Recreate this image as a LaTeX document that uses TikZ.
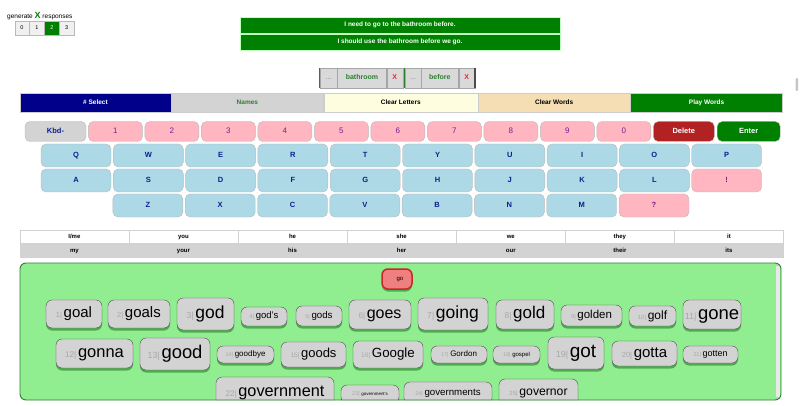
\documentclass[tikz,border=0pt]{standalone}
\usepackage{fontspec}
\setmainfont{Liberation Sans}
\usetikzlibrary{positioning,shadows}

\definecolor{pagegreen}{HTML}{008000}
\definecolor{namegreen}{HTML}{2E7D32}
\definecolor{keyblue}{HTML}{ADD8E6}
\definecolor{keypink}{HTML}{FFB6C1}
\definecolor{keytext}{HTML}{0A1F8F}
\definecolor{numtext}{HTML}{7A1F8A}
\definecolor{selnavy}{HTML}{00008B}
\definecolor{btngray}{HTML}{D3D3D3}
\definecolor{clrletters}{HTML}{FFFDE0}
\definecolor{clrwords}{HTML}{F5DEB3}
\definecolor{delred}{HTML}{B22222}
\definecolor{wordarea}{HTML}{90EE90}
\definecolor{areaedge}{HTML}{2E7D32}
\definecolor{idxgray}{HTML}{A8A8A8}
\definecolor{gopink}{HTML}{F08080}
\definecolor{gored}{HTML}{C62828}
\definecolor{xred}{HTML}{D32F2F}

\newcommand{\fsz}[1]{\fontsize{#1}{#1}\selectfont}
% index number in gray, then the word
\newcommand{\chipword}[3]{\pgfmathsetmacro{\idxsz}{min(9,max(5.5,0.5*#1))}{\fsz{\idxsz}\color{idxgray}#2|}\,{\fsz{#1}\vphantom{gl}#3}}

\begin{document}
\begin{tikzpicture}[x=1pt, y=-1pt,
    topbar/.style={fill=pagegreen, draw=white!75!green, text=white, font=\fsz{6.5}\bfseries, minimum width=320pt, minimum height=16pt, inner sep=0pt, text height=5pt, text depth=1.4pt},
    cntbtn/.style={draw=gray!55, fill=gray!12, minimum width=14.5pt, minimum height=14pt, inner sep=0pt, font=\fsz{5.5}},
    chipcell/.style={draw=gray!70, fill=gray!30, minimum height=20pt, inner sep=0pt, font=\fsz{7}\bfseries, text height=5.2pt, text depth=1.5pt},
    menubtn/.style={draw=gray!40, minimum width=152pt, minimum height=19pt, inner sep=0pt, font=\fsz{6.5}\bfseries, text height=5pt, text depth=1.4pt},
    keybase/.style={draw=gray!55, rounded corners=5pt, inner sep=0pt, text height=5.6pt, text depth=1pt},
    numkey/.style={keybase, fill=keypink, text=numtext, minimum width=54pt, minimum height=20pt, font=\fsz{8}},
    letterkey/.style={keybase, fill=keyblue, text=keytext, minimum width=70pt, minimum height=23pt, font=\fsz{7.5}\bfseries},
    pinkkey/.style={letterkey, fill=keypink, text=numtext},
    pron/.style={draw=gray!35, minimum width=108.7pt, minimum height=13.5pt, inner sep=0pt, font=\fsz{6}\bfseries, text height=4.5pt, text depth=1.4pt},
    wordchip/.style={draw=black!70, fill=btngray, rounded corners=6pt, inner sep=0pt, drop shadow={shadow xshift=0pt, shadow yshift=-2.5pt, fill=green!35!black, opacity=0.45}}
]

\useasboundingbox (0,0) rectangle (800,406);

%% response count
\node[anchor=west, inner sep=0pt] (gen) at (7,16) {\fsz{6.5}generate {\fsz{9}\bfseries\color{pagegreen}X} responses};
\node[cntbtn] (n0) at (22,28) {0};
\node[cntbtn, right=0pt of n0] (n1) {1};
\node[cntbtn, right=0pt of n1, fill=pagegreen, text=white] (n2) {2};
\node[cntbtn, right=0pt of n2] (n3) {3};

%% generated sentences
\node[topbar] (s1) at (400,25) {I need to go to the bathroom before.};
\node[topbar] (s2) at (400,42) {I should use the bathroom before we go.};

%% chosen words
\node[chipcell, minimum width=17pt, text=gray, font=\fsz{7}] (c1dots) at (328.5,78) {...};
\node[chipcell, minimum width=49pt, right=0pt of c1dots, text=namegreen] (c1word) {bathroom};
\node[chipcell, minimum width=16pt, right=0pt of c1word, text=xred] (c1x) {X};
\node[chipcell, minimum width=16pt, text=gray, font=\fsz{7}] (c2dots) at (413,78) {...};
\node[chipcell, minimum width=37pt, right=0pt of c2dots, text=namegreen] (c2word) {before};
\node[chipcell, minimum width=16pt, right=0pt of c2word, text=xred] (c2x) {X};
\draw[areaedge, line width=1.3pt] (c1dots.north west) -- (c1dots.south west);
\draw[areaedge, line width=1.3pt] (c2dots.north west) -- (c2dots.south west);
\draw[black!70, line width=1.3pt] (c2x.north east) -- (c2x.south east);

% page scroll mark
\fill[gray!45, rounded corners=1pt] (795.5,78) rectangle (798,91);

%% menu
\node[menubtn, fill=selnavy, text=white, minimum width=151pt] (msel) at (95.5,102.5) {\# Select};
\node[menubtn, fill=btngray, text=namegreen, right=0pt of msel] (mnames) {Names};
\node[menubtn, fill=clrletters, minimum width=154pt, right=0pt of mnames] (mletters) {Clear Letters};
\node[menubtn, fill=clrwords, right=0pt of mletters] (mwords) {Clear Words};
\node[menubtn, fill=pagegreen, text=white, right=0pt of mwords] (mplay) {Play Words};

%% keyboard, numbers
\node[numkey, fill=btngray, text=keytext, minimum width=61pt, font=\fsz{7.5}\bfseries] (kkbd) at (55.5,131.5) {Kbd-};
\node[numkey, right=2pt of kkbd] (k1) {1};
\node[numkey, right=2.1pt of k1] (k2) {2};
\node[numkey, right=2.1pt of k2] (k3) {3};
\node[numkey, right=2.1pt of k3] (k4) {4};
\node[numkey, right=2.1pt of k4] (k5) {5};
\node[numkey, right=2.1pt of k5] (k6) {6};
\node[numkey, right=2.1pt of k6] (k7) {7};
\node[numkey, right=2.1pt of k7] (k8) {8};
\node[numkey, right=2.1pt of k8] (k9) {9};
\node[numkey, right=2.1pt of k9] (k0) {0};
\node[numkey, fill=delred, text=white, minimum width=61pt, font=\fsz{7.5}\bfseries, right=2pt of k0] (kdel) {Delete};
\node[numkey, fill=pagegreen, text=white, minimum width=63pt, font=\fsz{7.5}\bfseries, right=2.5pt of kdel] (kent) {Enter};

% top letter row
\node[letterkey] (kq) at (76,155.5) {Q};
\node[letterkey, right=1.9pt of kq] (kw) {W};
\node[letterkey, right=1.9pt of kw] (ke) {E};
\node[letterkey, right=1.9pt of ke] (kr) {R};
\node[letterkey, right=1.9pt of kr] (kt) {T};
\node[letterkey, right=1.9pt of kt] (ky) {Y};
\node[letterkey, right=1.9pt of ky] (ku) {U};
\node[letterkey, right=1.9pt of ku] (ki) {I};
\node[letterkey, right=1.9pt of ki] (ko) {O};
\node[letterkey, right=1.9pt of ko] (kp) {P};

% middle letter row
\node[letterkey] (ka) at (76,180.5) {A};
\node[letterkey, right=1.9pt of ka] (ks) {S};
\node[letterkey, right=1.9pt of ks] (kd) {D};
\node[letterkey, right=1.9pt of kd] (kf) {F};
\node[letterkey, right=1.9pt of kf] (kg) {G};
\node[letterkey, right=1.9pt of kg] (kh) {H};
\node[letterkey, right=1.9pt of kh] (kj) {J};
\node[letterkey, right=1.9pt of kj] (kk) {K};
\node[letterkey, right=1.9pt of kk] (kl) {L};
\node[pinkkey, right=1.9pt of kl] (kexcl) {!};

% bottom letter row
\node[letterkey] (kz) at (147.9,205.5) {Z};
\node[letterkey, right=1.9pt of kz] (kx) {X};
\node[letterkey, right=1.9pt of kx] (kc) {C};
\node[letterkey, right=1.9pt of kc] (kv) {V};
\node[letterkey, right=1.9pt of kv] (kb) {B};
\node[letterkey, right=1.9pt of kb] (kn) {N};
\node[letterkey, right=1.9pt of kn] (km) {M};
\node[pinkkey, right=1.9pt of km] (kquest) {?};

%% pronouns
\node[pron, fill=white] (p1) at (74.35,236.75) {I/me};
\node[pron, fill=white, right=0pt of p1] (p2) {you};
\node[pron, fill=white, right=0pt of p2] (p3) {he};
\node[pron, fill=white, right=0pt of p3] (p4) {she};
\node[pron, fill=white, right=0pt of p4] (p5) {we};
\node[pron, fill=white, right=0pt of p5] (p6) {they};
\node[pron, fill=white, right=0pt of p6] (p7) {it};
\node[pron, fill=btngray, below=0pt of p1] (q1) {my};
\node[pron, fill=btngray, below=0pt of p2] (q2) {your};
\node[pron, fill=btngray, below=0pt of p3] (q3) {his};
\node[pron, fill=btngray, below=0pt of p4] (q4) {her};
\node[pron, fill=btngray, below=0pt of p5] (q5) {our};
\node[pron, fill=btngray, below=0pt of p6] (q6) {their};
\node[pron, fill=btngray, below=0pt of p7] (q7) {its};

%% word choices
\fill[wordarea, rounded corners=6pt] (20,263) rectangle (781,400);
\fill[gray!18] (775.5,266) rectangle (779.5,397);

\begin{scope}
\clip[rounded corners=6pt] (20,263) rectangle (781,400);

\node[wordchip, fill=gopink, draw=gored, line width=1.5pt, minimum width=30pt, minimum height=20pt] (w0) at (397,279) {{\fsz{5}\color{gored!55}0|}\,{\fsz{6}go}};

% first row
\node[wordchip, minimum width=56pt, minimum height=28pt] (w1) at (74,314) {\chipword{15}{1}{goal}};
\node[wordchip, minimum width=62pt, minimum height=28pt] (w2) at (139,314) {\chipword{15}{2}{goals}};
\node[wordchip, minimum width=57pt, minimum height=32pt] (w3) at (205.5,314) {\chipword{17.5}{3}{god}};
\node[wordchip, minimum width=46pt, minimum height=19pt] (w4) at (264,316.5) {\chipword{9.5}{4}{god's}};
\node[wordchip, minimum width=46pt, minimum height=20pt] (w5) at (319,316) {\chipword{9.7}{5}{gods}};
\node[wordchip, minimum width=62pt, minimum height=29pt] (w6) at (380,314.5) {\chipword{16}{6}{goes}};
\node[wordchip, minimum width=70pt, minimum height=32pt] (w7) at (453,314) {\chipword{17.5}{7}{going}};
\node[wordchip, minimum width=58pt, minimum height=29pt] (w8) at (525,314.5) {\chipword{17}{8}{gold}};
\node[wordchip, minimum width=61pt, minimum height=21pt] (w9) at (591.5,315.5) {\chipword{11.5}{9}{golden}};
\node[wordchip, minimum width=47pt, minimum height=20pt] (w10) at (652.5,316) {\chipword{12}{10}{golf}};
\node[wordchip, minimum width=58pt, minimum height=29pt] (w11) at (712,314.5) {\chipword{18.5}{11}{gone}};

% second row
\node[wordchip, minimum width=77pt, minimum height=29pt] (w12) at (94.5,353.5) {\chipword{16.5}{12}{gonna}};
\node[wordchip, minimum width=70pt, minimum height=32pt] (w13) at (175,354) {\chipword{18.4}{13}{good}};
\node[wordchip, minimum width=57pt, minimum height=17pt] (w14) at (245.5,354.5) {\chipword{8}{14}{goodbye}};
\node[wordchip, minimum width=65pt, minimum height=25pt] (w15) at (313.5,354.5) {\chipword{13}{15}{goods}};
\node[wordchip, minimum width=70pt, minimum height=27pt] (w16) at (388,354.5) {\chipword{13.3}{16}{Google}};
\node[wordchip, minimum width=56pt, minimum height=17pt] (w17) at (459,354.5) {\chipword{8}{17}{Gordon}};
\node[wordchip, minimum width=47pt, minimum height=17pt] (w18) at (516.5,354.5) {\chipword{6}{18}{gospel}};
\node[wordchip, minimum width=56pt, minimum height=32pt] (w19) at (576,353) {\chipword{19}{19}{got}};
\node[wordchip, minimum width=65pt, minimum height=25pt] (w20) at (644.5,353.5) {\chipword{15}{20}{gotta}};
\node[wordchip, minimum width=55pt, minimum height=17pt] (w21) at (710.5,354.5) {\chipword{9}{21}{gotten}};

% third row
\node[wordchip, minimum width=118pt, minimum height=30pt] (w22) at (275,392) {\chipword{16.3}{22}{government}};
\node[wordchip, minimum width=58pt, minimum height=18pt] (w23) at (370,394) {\chipword{4.4}{23}{government's}};
\node[wordchip, minimum width=88pt, minimum height=22pt] (w24) at (448,393) {\chipword{9.7}{24}{governments}};
\node[wordchip, minimum width=79pt, minimum height=27pt] (w25) at (538.5,392.5) {\chipword{12.2}{25}{governor}};
\end{scope}

\draw[areaedge, line width=0.9pt, rounded corners=6pt] (20,263) rectangle (781,400);

\end{tikzpicture}
\end{document}
